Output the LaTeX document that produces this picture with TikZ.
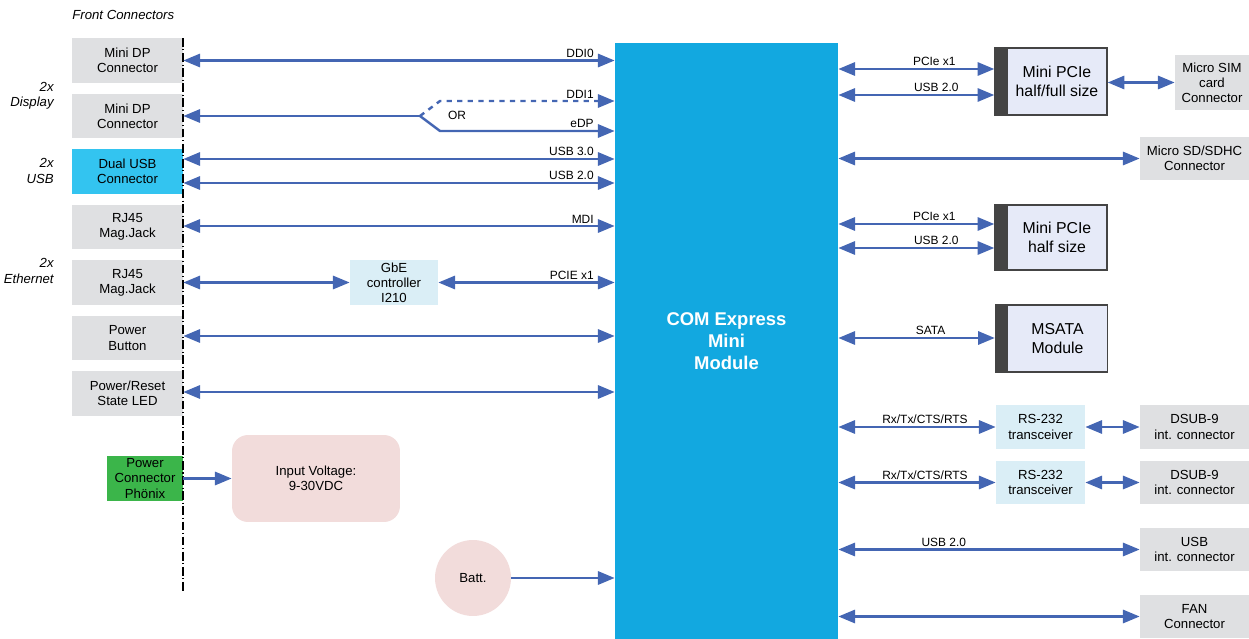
\documentclass[tikz,border=0pt]{standalone}
\usepackage{fontspec}
\setmainfont{Liberation Sans}
\usetikzlibrary{arrows.meta,calc}
\definecolor{conngray}{HTML}{DFE0E2}
\definecolor{usbcyan}{HTML}{33C4F0}
\definecolor{phgreen}{HTML}{3BB54A}
\definecolor{ltblue}{HTML}{DAEEF6}
\definecolor{pinkbox}{HTML}{F2DCDB}
\definecolor{comblue}{HTML}{12A8E0}
\definecolor{arrowblue}{HTML}{4466B3}
\definecolor{modfill}{HTML}{E6EAF8}
\definecolor{bardark}{HTML}{444444}
\begin{document}
\begin{tikzpicture}[x=0.02cm,y=-0.02cm,
  boxfont/.style={font=\fontsize{7.5}{8.6}\selectfont},
  lconn/.style={boxfont,fill=conngray,minimum width=2.22cm,minimum height=0.9cm,inner sep=0pt,align=center},
  rconn/.style={boxfont,fill=conngray,minimum width=2.18cm,minimum height=0.88cm,inner sep=0pt,align=center},
  chip/.style={boxfont,fill=ltblue,minimum height=0.88cm,inner sep=0pt,align=center},
  module/.style={font=\fontsize{9}{10.5}\selectfont,fill=modfill,draw=bardark,line width=0.8pt,minimum width=2cm,inner sep=0pt,align=center},
  modbar/.style={fill=bardark,draw=bardark,line width=0.8pt,minimum width=0.24cm,inner sep=0pt},
  lbl/.style={font=\fontsize{6.8}{8}\selectfont,inner sep=1pt},
  sidelbl/.style={font=\itshape\fontsize{7.5}{8.6}\selectfont,align=right,inner sep=0pt},
  tip/.tip={Triangle[length=9.5pt,width=7.5pt]},
  busline/.style={draw=arrowblue,line width=1.4pt},
  bus/.style={busline,tip-tip},
  busto/.style={busline,-tip}
]
\useasboundingbox (0,0) rectangle (1249,639);

% COM Express module
\node[fill=comblue,minimum width=4.46cm,minimum height=11.92cm,inner sep=0pt,
      text=white,font=\bfseries\fontsize{10.5}{12.5}\selectfont,align=center] (com) at (726.5,341)
      {COM Express\\Mini\\Module};

% Left labels
\node[sidelbl,anchor=west] (front) at (72,15) {Front Connectors};
\node[sidelbl,anchor=east] (ldisp) at (54,96) {2x\\Display};
\node[sidelbl,anchor=east] (lusb) at (54,171) {2x\\USB};
\node[sidelbl,anchor=east] (leth) at (54,271) {2x\\Ethernet};

% Left connectors
\node[lconn] (mdp1) at (127.5,60.5) {Mini DP\\Connector};
\node[lconn] (mdp2) at (127.5,116) {Mini DP\\Connector};
\node[lconn,fill=usbcyan] (usb) at (127.5,171.5) {Dual USB\\Connector};
\node[lconn] (rj1) at (127.5,227) {RJ45\\Mag.Jack};
\node[lconn] (rj2) at (127.5,282.5) {RJ45\\Mag.Jack};
\node[lconn] (pbtn) at (127.5,338) {Power\\Button};
\node[lconn] (led) at (127.5,393.5) {Power/Reset\\State LED};
\node[lconn,fill=phgreen,minimum width=1.52cm] (phx) at (145,478.5) {Power\\Connector\\Phönix};

% front panel line
\coordinate (fptop) at (183,38);
\coordinate (fpbot) at (183,593);
\draw[black,line width=0.8pt,dash pattern=on 5pt off 1.5pt on 0.6pt off 1.5pt] (fptop) -- (fpbot);

% middle blocks
\node[chip,minimum width=1.76cm,minimum height=0.9cm] (gbe) at (394,282.5) {GbE\\controller\\I210};
\node[boxfont,fill=pinkbox,rounded corners=0.32cm,minimum width=3.36cm,minimum height=1.74cm,align=center] (vin) at (316,478.5) {Input Voltage:\\9-30VDC};
\node[boxfont,fill=pinkbox,circle,minimum size=1.52cm,inner sep=0pt] (batt) at (473,578) {Batt.};

% left arrows
\draw[bus] (mdp1.east) -- node[lbl,pos=1,anchor=south east,xshift=-0.36cm]{DDI0} (mdp1.east -| com.west);
\coordinate (orsplit) at (420,116);
\coordinate (orup) at (440,101);
\coordinate (ordn) at (440,131);
\draw[busline,tip-] (mdp2.east) -- (orsplit);
\draw[busto,dashed] (orsplit) -- (orup) -- node[lbl,pos=1,anchor=south east,xshift=-0.36cm]{DDI1} (com.west |- orup);
\draw[busto] (orsplit) -- (ordn) -- node[lbl,pos=1,anchor=south east,xshift=-0.36cm]{eDP} (com.west |- ordn);
\node[lbl,anchor=west] (ortxt) at (446,115) {OR};
\draw[bus] (usb.east |- 0,159) -- node[lbl,pos=1,anchor=south east,xshift=-0.36cm]{USB 3.0} (com.west |- 0,159);
\draw[bus] (usb.east |- 0,183) -- node[lbl,pos=1,anchor=south east,xshift=-0.36cm]{USB 2.0} (com.west |- 0,183);
\draw[bus] (rj1.east |- 0,226) -- node[lbl,pos=1,anchor=south east,xshift=-0.36cm]{MDI} (com.west |- 0,226);
\draw[bus] (rj2.east) -- (gbe.west);
\draw[bus] (gbe.east) -- node[lbl,pos=1,anchor=south east,xshift=-0.36cm]{PCIE x1} (gbe.east -| com.west);
\draw[bus] (pbtn.east |- 0,336) -- (com.west |- 0,336);
\draw[bus] (led.east |- 0,392) -- (com.west |- 0,392);
\draw[busto] (phx.east) -- (vin.west);
\draw[busto] (batt.east) -- (batt.east -| com.west);

% Right side modules
\node[module,minimum height=1.34cm] (mp1) at (1057,81.5) {Mini PCIe\\half/full size};
\node[modbar,minimum height=1.34cm] (mp1bar) at (1001,81.5) {};
\node[boxfont,fill=conngray,minimum width=1.48cm,minimum height=1.1cm,inner sep=0pt,align=center] (sim) at (1212,82.5) {Micro SIM\\card\\Connector};
\node[rconn,minimum height=0.86cm] (sd) at (1194.5,158.5) {Micro SD/SDHC\\Connector};
\node[module,minimum height=1.3cm] (mp2) at (1057,237.5) {Mini PCIe\\half size};
\node[modbar,minimum height=1.3cm] (mp2bar) at (1001,237.5) {};
\node[module,minimum height=1.34cm] (msata) at (1057.5,338.5) {MSATA\\Module};
\node[modbar,minimum height=1.34cm] (msbar) at (1001.5,338.5) {};
\node[chip,minimum width=1.78cm] (rs1) at (1040.5,427) {RS-232\\transceiver};
\node[rconn] (dsub1) at (1194.5,427) {DSUB-9\\int. connector};
\node[chip,minimum width=1.78cm] (rs2) at (1040.5,482.5) {RS-232\\transceiver};
\node[rconn] (dsub2) at (1194.5,482.5) {DSUB-9\\int. connector};
\node[rconn] (usbint) at (1194.5,549.5) {USB\\int. connector};
\node[rconn] (fan) at (1194.5,616.5) {FAN\\Connector};

% right arrows
\draw[bus] (com.east |- 0,69) -- node[lbl,above,xshift=0.36cm]{PCIe x1} (mp1bar.west |- 0,69);
\draw[bus] (com.east |- 0,95) -- node[lbl,above,xshift=0.4cm]{USB 2.0} (mp1bar.west |- 0,95);
\draw[bus] (mp1.east |- sim.west) -- (sim.west);
\draw[bus] (com.east |- sd.west) -- (sd.west);
\draw[bus] (com.east |- 0,224) -- node[lbl,above,xshift=0.36cm]{PCIe x1} (mp2bar.west |- 0,224);
\draw[bus] (com.east |- 0,248) -- node[lbl,above,xshift=0.4cm]{USB 2.0} (mp2bar.west |- 0,248);
\draw[bus] (com.east |- 0,338) -- node[lbl,above,xshift=0.28cm]{SATA} (msbar.west |- 0,338);
\draw[bus] (com.east |- rs1.west) -- node[lbl,above,xshift=0.16cm]{Rx/Tx/CTS/RTS} (rs1.west);
\draw[bus] (rs1.east) -- (dsub1.west);
\draw[bus] (com.east |- rs2.west) -- node[lbl,above,xshift=0.16cm]{Rx/Tx/CTS/RTS} (rs2.west);
\draw[bus] (rs2.east) -- (dsub2.west);
\draw[bus] (com.east |- usbint.west) -- node[lbl,above,pos=0.35]{USB 2.0} (usbint.west);
\draw[bus] (com.east |- fan.west) -- (fan.west);
\end{tikzpicture}
\end{document}
